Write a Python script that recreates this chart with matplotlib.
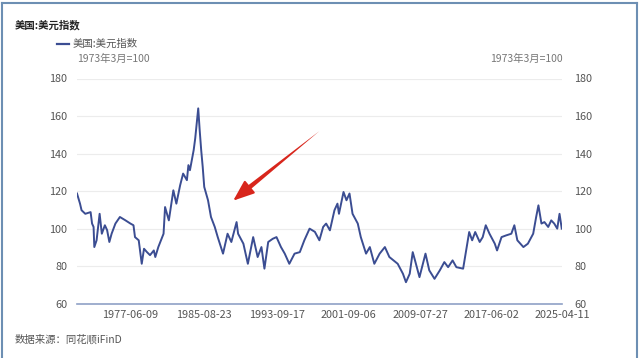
import pandas as pd
import matplotlib.pyplot as plt
from matplotlib.lines import Line2D

plt.rcParams['font.family'] = ['Noto Sans CJK SC', 'DejaVu Sans']

# 美元指数（月度近似读数）
months = [
    '1971-08', '1971-12', '1972-02', '1972-07', '1973-02', '1973-04', '1973-06', '1973-07',
    '1973-10', '1974-02', '1974-05', '1974-09', '1974-12', '1975-03', '1975-06', '1975-11',
    '1976-05', '1976-12', '1977-07', '1977-11', '1978-01', '1978-06', '1978-08', '1978-10',
    '1979-01', '1979-05', '1979-09', '1980-02', '1980-04', '1980-08', '1981-03', '1981-05',
    '1981-10', '1982-04', '1982-08', '1983-01', '1983-05', '1983-10', '1983-12', '1984-02',
    '1984-07', '1984-09', '1985-01', '1985-03', '1985-05', '1985-07', '1985-09', '1986-02',
    '1986-06', '1986-11', '1987-03', '1987-10', '1988-04', '1988-09', '1989-04', '1989-06',
    '1990-01', '1990-07', '1991-02', '1991-08', '1992-01', '1992-05', '1992-10', '1993-04',
    '1993-09', '1994-03', '1994-08', '1995-02', '1995-09', '1996-04', '1996-10', '1997-05',
    '1997-12', '1998-06', '1998-11', '1999-03', '1999-08', '2000-02', '2000-06', '2000-08',
    '2001-02', '2001-06', '2001-10', '2002-02', '2002-09', '2003-01', '2003-08', '2004-01',
    '2004-07', '2005-02', '2005-09', '2006-03', '2007-02', '2007-09', '2008-01', '2008-06',
    '2008-10', '2009-01', '2009-07', '2010-03', '2010-08', '2011-03', '2011-10', '2012-04',
    '2012-09', '2013-03', '2013-08', '2014-05', '2014-09', '2015-01', '2015-05', '2015-09',
    '2016-03', '2016-07', '2016-11', '2017-04', '2017-11', '2018-02', '2018-08', '2019-02',
    '2019-09', '2020-01', '2020-05', '2021-01', '2021-07', '2022-02', '2022-06', '2022-09',
    '2023-01', '2023-05', '2023-10', '2024-02', '2024-06', '2024-10', '2025-01', '2025-04',
]
dxy = [
    118.8, 113.4, 109.9, 108.0, 108.9, 102.8, 101.0, 90.3,
    93.9, 108.0, 97.4, 101.9, 99.3, 93.0, 97.4, 102.8,
    106.3, 104.6, 102.8, 101.9, 95.6, 93.9, 87.6, 81.4,
    89.4, 87.6, 86.0, 88.5, 85.0, 90.3, 97.4, 111.6,
    104.5, 120.5, 113.4, 123.2, 129.4, 125.9, 133.9, 131.2,
    141.9, 148.1, 164.1, 152.5, 141.9, 133.0, 122.3, 115.2,
    106.3, 101.0, 95.6, 86.8, 97.4, 93.0, 103.6, 97.4,
    92.1, 81.4, 95.6, 85.0, 90.3, 78.8, 93.0, 94.7,
    95.6, 90.3, 86.8, 81.4, 86.8, 87.6, 93.9, 100.1,
    98.4, 93.9, 101.0, 102.8, 99.2, 109.9, 113.4, 108.0,
    119.6, 115.2, 118.8, 108.0, 102.8, 95.6, 86.8, 90.3,
    81.4, 86.8, 90.3, 85.0, 81.4, 76.1, 71.6, 76.1,
    87.6, 83.2, 74.3, 86.8, 77.9, 73.4, 77.9, 82.3,
    79.6, 83.2, 79.6, 78.8, 88.5, 98.3, 93.9, 98.3,
    93.0, 95.6, 101.9, 97.4, 92.1, 88.5, 95.6, 96.5,
    97.4, 101.9, 93.9, 90.3, 92.1, 97.4, 106.3, 112.5,
    102.8, 103.6, 101.0, 104.5, 102.8, 100.1, 108.0, 100.1,
]
tick_dates = ['1977-06-09', '1985-08-23', '1993-09-17', '2001-09-06',
              '2009-07-27', '2017-06-02', '2025-04-11']
y_ticks = [60, 80, 100, 120, 140, 160, 180]

dates = pd.to_datetime(months, format='%Y-%m')
line_color = '#3b4d92'
tick_color = '#555555'
arrow_color = '#d8261c'

fig = plt.figure(figsize=(6.4, 3.58), dpi=100)
ax = fig.add_axes([77 / 640, 1 - 304 / 358, 485 / 640, 225.5 / 358])

ax.plot(dates, dxy, color=line_color, lw=1.4)
ax.set_xlim(dates[0], dates[-1])
ax.set_ylim(60, 180)
ax.set_yticks(y_ticks)
ax.set_xticks(pd.to_datetime(tick_dates))
ax.set_xticklabels(tick_dates)
ax.grid(axis='y', color='#ececec', lw=0.8)
ax.set_axisbelow(True)
for s in ['top', 'left', 'right']:
    ax.spines[s].set_visible(False)
ax.spines['bottom'].set_color('#8fa1c6')
ax.spines['bottom'].set_linewidth(1.2)
ax.tick_params(axis='x', length=0, labelsize=7.8, colors=tick_color, pad=4)
ax.tick_params(axis='y', length=0, labelsize=7.8, colors=tick_color, pad=7)

ax2 = ax.twinx()
ax2.set_ylim(60, 180)
ax2.set_yticks(y_ticks)
for s in ax2.spines.values():
    s.set_visible(False)
ax2.tick_params(axis='y', length=0, labelsize=7.8, colors=tick_color, pad=9)

# 红色箭头：尾部由细变粗的楔形 + 三角箭头
tip = (pd.Timestamp('1988-11-15'), 115)
neck = (pd.Timestamp('1990-04-01'), 120.5)
tail = (pd.Timestamp('1998-06-01'), 152)
ax.annotate('', xy=tail, xytext=neck,
            arrowprops=dict(arrowstyle='wedge,tail_width=0.35,shrink_factor=0.5',
                            color=arrow_color, lw=0, mutation_scale=10,
                            shrinkA=0, shrinkB=0))
ax.annotate('', xy=tip, xytext=neck,
            arrowprops=dict(arrowstyle='-|>,head_length=1.3,head_width=0.5',
                            color=arrow_color, lw=1.5, mutation_scale=10,
                            shrinkA=0, shrinkB=0))

# 标题、图例、单位、来源
fig.text(15 / 640, 1 - 25 / 358, '美国:美元指数', fontsize=7.5, fontweight='bold',
         color='#222222', va='center')
fig.add_artist(Line2D([57 / 640, 69 / 640], [1 - 44 / 358, 1 - 44 / 358],
                      color=line_color, lw=1.6))
fig.text(73 / 640, 1 - 44 / 358, '美国:美元指数', fontsize=7.5, color='#555555', va='center')
fig.text(77 / 640, 1 - 59 / 358, '1973年3月=100', fontsize=7.5, color='#777777', va='center')
fig.text(563 / 640, 1 - 59 / 358, '1973年3月=100', fontsize=7.5, color='#777777',
         va='center', ha='right')
fig.text(15 / 640, 1 - 340 / 358, '数据来源：同花顺iFinD', fontsize=7.5, color='#555555',
         va='center')

# 外框
frame_color = '#6d8fb3'
fig.add_artist(Line2D([1.5 / 640, 1.5 / 640], [0, 1 - 3 / 358], color=frame_color, lw=1.5))
fig.add_artist(Line2D([1.5 / 640, 636.5 / 640], [1 - 3 / 358, 1 - 3 / 358], color=frame_color, lw=1.5))
fig.add_artist(Line2D([636.5 / 640, 636.5 / 640], [0, 1 - 3 / 358], color=frame_color, lw=1.5))

fig.savefig('out.png', dpi=100)
